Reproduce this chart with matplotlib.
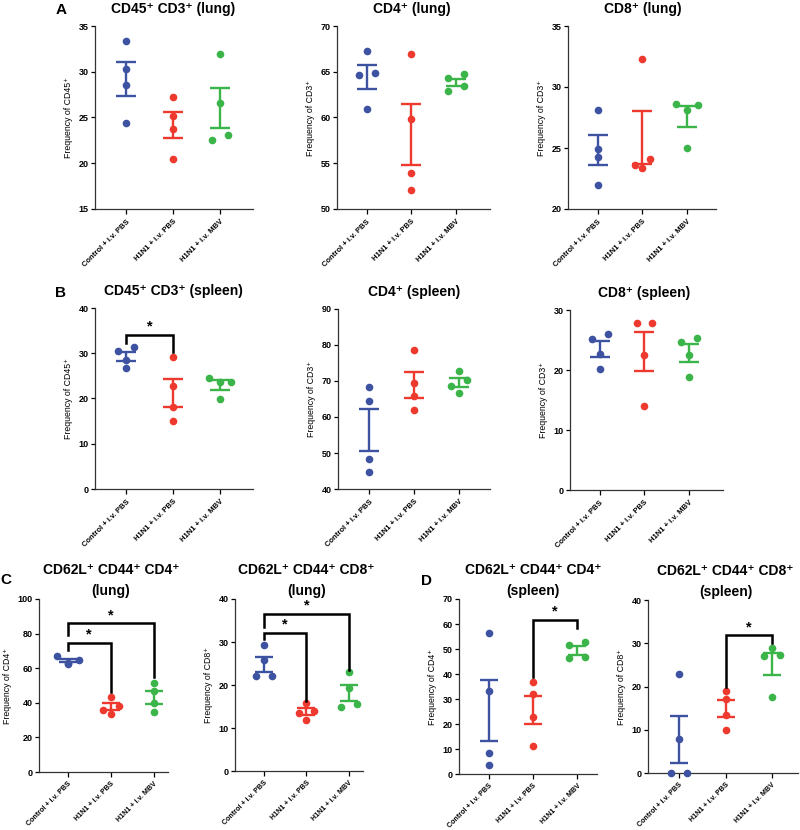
import matplotlib.pyplot as plt
import numpy as np

plt.rcParams["font.family"] = ["Liberation Sans", "DejaVu Sans"]

groups = ["Control + i.v. PBS", "H1N1 + i.v. PBS", "H1N1 + i.v. MBV"]
colors = ["#3D52A1", "#EE3A2E", "#3BB54A"]

# A: lung
lung_cd45_cd3 = [[33.4, 30.3, 28.6, 24.4], [27.2, 25.2, 23.7, 20.5], [31.9, 26.6, 22.5, 23.1]]
lung_cd4 = [[67.3, 64.9, 64.6, 60.9], [66.9, 59.8, 53.9, 52.1], [64.7, 64.3, 63.4, 62.9]]
lung_cd8 = [[28.1, 24.9, 24.3, 22.0], [32.3, 24.1, 23.6, 23.4], [28.6, 28.5, 28.1, 25.0]]

# B: spleen
spleen_cd45_cd3 = [[31.3, 30.5, 28.5, 26.7], [29.1, 22.8, 18.1, 15.1], [24.5, 23.7, 23.7, 19.8]]
spleen_cd4 = [[68.3, 64.5, 48.3, 44.6], [78.5, 69.4, 65.7, 62.0], [72.7, 70.2, 68.5, 66.7]]
spleen_cd8 = [[26.0, 25.1, 22.7, 20.1], [27.9, 27.9, 22.5, 14.0], [25.3, 24.7, 22.5, 18.9]]

# C: CD62L+ CD44+ lung
lung_cd4_mem = [[67.2, 64.7, 63.2, 62.4], [43.2, 38.3, 35.8, 33.5], [51.6, 47.0, 40.0, 34.7]]
lung_cd8_mem = [[29.2, 25.9, 22.2, 22.0], [15.7, 14.0, 13.6, 11.9], [23.0, 19.4, 15.5, 14.9]]

# D: CD62L+ CD44+ spleen
spleen_cd4_mem = [[56.6, 33.3, 8.6, 3.5], [37.0, 31.9, 22.8, 11.3], [52.7, 51.6, 46.7, 46.6]]
spleen_cd8_mem = [[23.0, 7.9, 0.1, 0.0], [18.9, 17.2, 13.4, 10.0], [29.0, 27.3, 27.0, 17.5]]

# significance brackets: (group i, group j, bar level, left leg end, right leg end)
brackets_b1 = [(0, 1, 34.0, 32.3, 30.3)]
brackets_c1 = [(0, 1, 74.4, 70.5, 46.4), (0, 2, 85.9, 79.0, 55.1)]
brackets_c2 = [(0, 1, 32.2, 30.6, 16.3), (0, 2, 36.6, 33.5, 23.6)]
brackets_d1 = [(1, 2, 61.6, 39.0, 58.3)]
brackets_d2 = [(1, 2, 31.8, 20.0, 30.0)]

W, H = 800, 830

panels = [
    # data, title, ylabel, ylim, ystep, pixel box (l, t, r, b), xlim, brackets, title pad
    (lung_cd45_cd3, "CD45⁺ CD3⁺ (lung)", "Frequency of CD45⁺", (15, 35), 5, (95, 26, 253, 209), (-0.66, 2.7), [], 7),
    (lung_cd4, "CD4⁺ (lung)", "Frequency of CD3⁺", (50, 70), 5, (337, 26, 490, 209), (-0.67, 2.76), [], 7),
    (lung_cd8, "CD8⁺ (lung)", "Frequency of CD3⁺", (20, 35), 5, (568, 26, 716, 209), (-0.67, 2.65), [], 7),
    (spleen_cd45_cd3, "CD45⁺ CD3⁺ (spleen)", "Frequency of CD45⁺", (0, 40), 10, (95, 308, 253, 489), (-0.66, 2.7), brackets_b1, 7),
    (spleen_cd4, "CD4⁺ (spleen)", "Frequency of CD3⁺", (40, 90), 10, (338, 309, 490, 489), (-0.69, 2.69), [], 7),
    (spleen_cd8, "CD8⁺ (spleen)", "Frequency of CD3⁺", (0, 30), 10, (570, 310, 723, 490), (-0.67, 2.76), [], 7),
    (lung_cd4_mem, "CD62L⁺ CD44⁺ CD4⁺\n(lung)", "Frequency of CD4⁺", (0, 100), 20, (39, 599, 168, 772), (-0.67, 2.33), brackets_c1, 1),
    (lung_cd8_mem, "CD62L⁺ CD44⁺ CD8⁺\n(lung)", "Frequency of CD8⁺", (0, 40), 10, (235, 599, 363, 771), (-0.68, 2.33), brackets_c2, 1),
    (spleen_cd4_mem, "CD62L⁺ CD44⁺ CD4⁺\n(spleen)", "Frequency of CD4⁺", (0, 70), 10, (459, 599, 597, 774), (-0.68, 2.45), brackets_d1, 1),
    (spleen_cd8_mem, "CD62L⁺ CD44⁺ CD8⁺\n(spleen)", "Frequency of CD8⁺", (0, 40), 10, (648, 600, 798, 773), (-0.67, 2.56), brackets_d2, 1),
]

ROW_GAP = 7.0   # px: points closer than this vertically share a row
SPREAD2 = 7.7   # px offset for a row of two
SPREAD3 = 11.0  # px offset for a row of three


def swarm_offsets(ax, values):
    x0, x1 = ax.get_xlim()
    y0, y1 = ax.get_ylim()
    px_x = ax.bbox.width / (x1 - x0)
    px_y = ax.bbox.height / (y1 - y0)
    order = np.argsort(values, kind="stable")[::-1]
    rows = []
    for idx in order:
        if rows and (values[rows[-1][0]] - values[idx]) * px_y < ROW_GAP:
            rows[-1].append(idx)
        else:
            rows.append([idx])
    offsets = np.zeros(len(values))
    for row in rows:
        n = len(row)
        if n == 1:
            continue
        if n == 2:
            slots, spread = [1, -1], SPREAD2
        elif n == 3:
            slots, spread = [-1, 1, 0], SPREAD3
        else:
            slots, spread = np.linspace(-1, 1, n), SPREAD3
        for idx, s in zip(row, slots):
            offsets[idx] = s * spread / px_x
    return offsets


fig = plt.figure(figsize=(W / 100, H / 100), dpi=100)

for data, title, ylabel, ylim, ystep, box, xlim, brackets, tpad in panels:
    l, t, r, b = box
    lower_row = t > 500
    ax = fig.add_axes([l / W, 1 - b / H, (r - l) / W, (b - t) / H])
    ax.set_xlim(*xlim)
    ax.set_ylim(*ylim)

    for i, vals in enumerate(data):
        vals = np.array(vals)
        xs = i + swarm_offsets(ax, vals)
        ax.plot(xs, vals, "o", ms=5.5, color=colors[i], mec="none", zorder=3, clip_on=False)
        mean = vals.mean()
        sem = vals.std(ddof=1) / np.sqrt(len(vals))
        ax.errorbar(i, mean, yerr=sem, fmt="none", ecolor=colors[i], elinewidth=1.7,
                    capsize=6.3 if lower_row else 7, capthick=1.7, zorder=4, clip_on=False)

    for gi, gj, ybar, yl, yr in brackets:
        ax.plot([gi, gi, gj, gj], [yl, ybar, ybar, yr], color="black", lw=1.8,
                solid_joinstyle="miter", zorder=5, clip_on=False)
        ax.annotate("*", xy=((gi + gj) / 2, ybar), xytext=(0, 1), textcoords="offset points",
                    ha="center", va="bottom", fontsize=10.5, fontweight="bold")

    ax.annotate(title, xy=(1, 1), xycoords=("data", "axes fraction"), xytext=(0, tpad),
                textcoords="offset points", ha="center", va="bottom", fontsize=10,
                fontweight="bold", linespacing=1.6)

    ax.set_yticks(np.arange(ylim[0], ylim[1] + 0.1, ystep))
    ax.set_xticks(range(len(groups)))
    ax.set_xticklabels(groups, rotation=45, ha="right", rotation_mode="anchor",
                       fontsize=5.1 if lower_row else 5.5, fontweight="bold")
    for lab in ax.get_yticklabels():
        lab.set_fontweight("bold")
    ax.tick_params(axis="y", labelsize=6.5, length=3, width=0.9, pad=1.5)
    ax.tick_params(axis="x", length=3.5, width=0.9, pad=2.5 if lower_row else 3)
    ax.set_ylabel(ylabel, fontsize=6.3, labelpad=4)
    for side in ["top", "right"]:
        ax.spines[side].set_visible(False)
    for side in ["left", "bottom"]:
        ax.spines[side].set_linewidth(0.9)
        ax.spines[side].set_color("#333333")

for letter, (px, py) in zip("ABCD", [(61, 10), (61, 293), (6, 580), (427, 581)]):
    fig.text(px / W, 1 - py / H, letter, ha="center", va="center", fontsize=11, fontweight="bold")

fig.savefig("out.png", dpi=100)
